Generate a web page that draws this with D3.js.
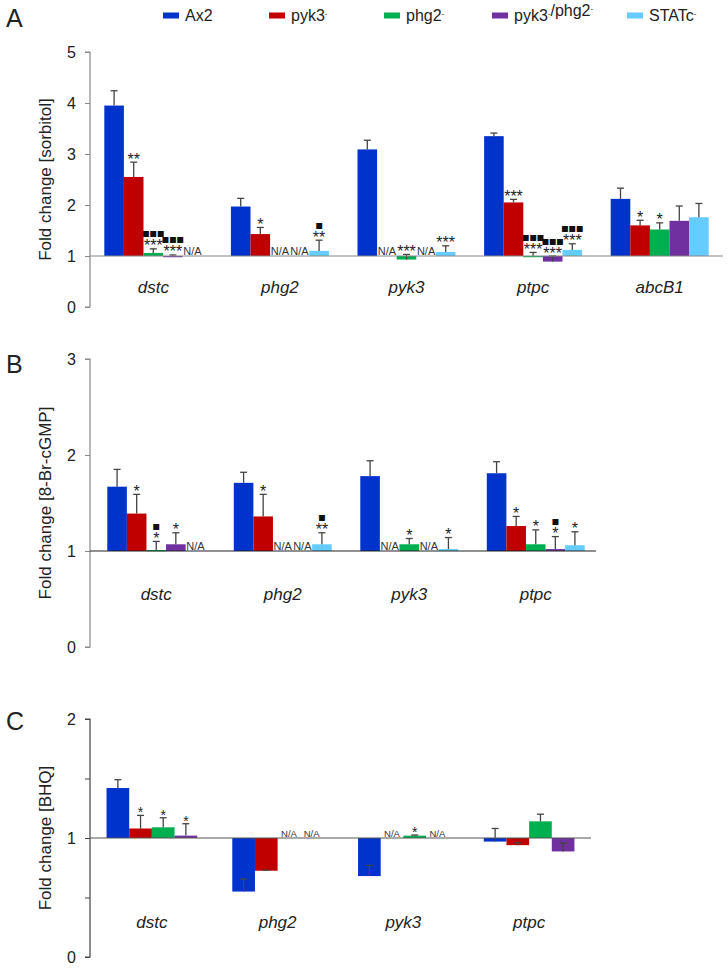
<!DOCTYPE html>
<html><head><meta charset="utf-8">
<script src="https://cdn.jsdelivr.net/npm/d3@7"></script>
<style>
html,body{margin:0;padding:0;background:#fff;}
svg{display:block;font-family:"Liberation Sans",Arial,sans-serif;}
</style></head>
<body>
<svg id="chart" width="728" height="969"></svg>
<script>
// ---------------- DATA ----------------
const strains = ["Ax2", "pyk3-", "phg2-", "pyk3-/phg2-", "STATc-"];
const genesA = ["dstc", "phg2", "pyk3", "ptpc", "abcB1"];
const genesBC = ["dstc", "phg2", "pyk3", "ptpc"];

// Panel A: Fold change [sorbitol]  (rows = strains, cols = genes; null = N/A)
const sorbitolValues = [
  [3.95, 1.97, 3.09, 3.35, 2.12],
  [2.55, 1.43, null, 2.05, 1.60],
  [1.06, null, 0.93, 1.00, 1.52],
  [0.99, null, null, 0.89, 1.69],
  [null, 1.10, 1.08, 1.12, 1.76]
];
const sorbitolErrors = [
  [0.29, 0.16, 0.18, 0.06, 0.21],
  [0.29, 0.13, null, 0.06, 0.10],
  [0.08, null, 0.10, 0.07, 0.13],
  [0.03, null, null, 0.11, 0.29],
  [null, 0.21, 0.12, 0.12, 0.27]
];
const sorbitolStars = [
  ["", "", "", "", ""],
  ["**", "*", "", "***", "*"],
  ["***", "", "***", "***", "*"],
  ["***", "", "", "***", ""],
  ["", "**", "***", "***", ""]
];
const sorbitolSquares = [
  ["", "", "", "", ""],
  ["", "", "", "", ""],
  ["■■■", "", "", "■■■", ""],
  ["■■■", "", "", "■■■", ""],
  ["", "■", "", "■■■", ""]
];

// Panel B: Fold change [8-Br-cGMP]
const cgmpValues = [
  [1.67, 1.71, 1.78, 1.81],
  [1.39, 1.36, null, 1.26],
  [1.01, null, 1.07, 1.07],
  [1.07, null, null, 1.02],
  [null, 1.07, 1.02, 1.06]
];
const cgmpErrors = [
  [0.18, 0.11, 0.16, 0.12],
  [0.20, 0.23, null, 0.10],
  [0.09, null, 0.06, 0.15],
  [0.12, null, null, 0.13],
  [null, 0.12, 0.12, 0.14]
];
const cgmpStars = [
  ["", "", "", ""],
  ["*", "*", "", "*"],
  ["*", "", "*", "*"],
  ["*", "", "", "*"],
  ["", "**", "*", "*"]
];
const cgmpSquares = [
  ["", "", "", ""],
  ["", "", "", ""],
  ["■", "", "", ""],
  ["", "", "", "■"],
  ["", "■", "", ""]
];

// Panel C: Fold change [BHQ]  (STATc- not measured)
const bhqValues = [
  [1.42, 0.55, 0.68, 0.97],
  [1.08, 0.725, null, 0.94],
  [1.09, null, 1.02, 1.14],
  [1.02, null, null, 0.887]
];
const bhqErrors = [
  [0.07, 0.105, 0.09, 0.11],
  [0.11, 0.005, null, 0.02],
  [0.08, null, 0.005, 0.06],
  [0.10, null, null, 0.07]
];
const bhqStars = [
  ["", "", "", ""],
  ["*", "", "", ""],
  ["*", "", "*", ""],
  ["*", "", "", ""]
];
const bhqSquares = [
  ["", "", "", ""],
  ["", "", "", ""],
  ["", "", "", ""],
  ["", "", "", ""]
];

const ticksA = [0, 1, 2, 3, 4, 5];
const ticksB = [0, 1, 2, 3];
const ticksC = [0, 0.5, 1, 1.5, 2];
const tickLabelsC = ["0", "", "1", "", "2"];

// ---------------- STYLE / LAYOUT ----------------
const colors = ["#0033cc", "#c00000", "#00b050", "#7030a0", "#66ccff"];
const FONT = '"Liberation Sans",Arial,sans-serif';
const svg = d3.select("#chart");

function superLabel(sel, label, size, supSize) {
  const parts = label.split(/(-)/).filter(s => s.length);
  parts.forEach(p => {
    if (p === "-") {
      sel.append("tspan").attr("font-size", supSize).attr("dy", -5).text("-");
      sel.append("tspan").attr("font-size", size).attr("dy", 5).text("");
    } else {
      sel.append("tspan").attr("font-size", size).text(p);
    }
  });
}

// Legend
const legendX = [163, 269, 384, 492, 627];
strains.forEach((s, i) => {
  const g = svg.append("g").attr("transform", `translate(${legendX[i]},0)`);
  g.append("rect").attr("x", 0).attr("y", 12.5).attr("width", 16).attr("height", 6).attr("fill", colors[i]);
  const t = g.append("text").attr("x", 22).attr("y", 21).attr("fill", "#222").attr("font-size", 16);
  superLabel(t, s, 16, 8);
});

function panel(cfg) {
  const g = svg.append("g");
  const y = d3.scaleLinear().domain(cfg.yDomain).range(cfg.yRange);
  const x0 = d3.scaleBand().domain(cfg.genes).range(cfg.xRange)
    .paddingInner(cfg.padIn).paddingOuter(cfg.padIn / 2);
  const nS = cfg.values.length;
  const x1 = d3.scaleBand().domain(d3.range(nS)).range([0, x0.bandwidth()]).padding(0);

  // panel letter
  svg.append("text").attr("x", 6).attr("y", cfg.letterY).attr("font-size", 25)
    .attr("fill", "#222").text(cfg.letter);

  // y axis
  const axis = d3.axisLeft(y).tickValues(cfg.ticks).tickSize(5).tickPadding(9)
    .tickFormat((d, i) => cfg.tickLabels ? cfg.tickLabels[i] : d3.format("d")(d));
  const ax = g.append("g").attr("transform", `translate(${cfg.axisX},0)`).call(axis);
  ax.select(".domain").attr("stroke", cfg.axisColor).attr("stroke-width", 1.2)
    .attr("d", `M-5,${y(cfg.yDomain[1])}H0V${y(cfg.yDomain[0])}H-5`);
  ax.selectAll(".tick line").attr("stroke", cfg.axisColor);
  ax.selectAll(".tick text").attr("font-size", 16).attr("fill", "#222").attr("font-family", FONT);

  // y title
  const yc = (cfg.yRange[0] + cfg.yRange[1]) / 2;
  g.append("text").attr("transform", `translate(51,${yc}) rotate(-90)`)
    .attr("text-anchor", "middle").attr("font-size", 17).attr("fill", "#222").text(cfg.title);

  // bars
  cfg.values.forEach((row, si) => {
    row.forEach((v, gi) => {
      const bx = x0(cfg.genes[gi]) + x1(si);
      const bw = x1.bandwidth();
      const cx = bx + bw / 2;
      if (v === null) {
        if (cfg.naShow) {
          g.append("text").attr("x", cx).attr("y", y(1) - 1.5).attr("text-anchor", "middle")
            .attr("font-size", cfg.naSize).attr("fill", "#333").text("N/A");
        }
        return;
      }
      const y1 = y(1), yv = y(v);
      g.append("rect").attr("x", bx).attr("width", bw)
        .attr("y", Math.min(y1, yv)).attr("height", Math.max(Math.abs(y1 - yv), 1.2))
        .attr("fill", colors[si]);
      const e = cfg.errors[si][gi];
      const yTop = y(v + e);
      g.append("line").attr("x1", cx).attr("x2", cx).attr("y1", yv).attr("y2", yTop)
        .attr("stroke", "#444").attr("stroke-width", 1.3);
      g.append("line").attr("x1", cx - 3.5).attr("x2", cx + 3.5).attr("y1", yTop).attr("y2", yTop)
        .attr("stroke", "#444").attr("stroke-width", 1.3);
      const capY = Math.min(yTop, yv, y1);
      const st = cfg.stars[si][gi];
      if (st) {
        g.append("text").attr("x", cx).attr("y", capY + cfg.starOff).attr("text-anchor", "middle")
          .attr("font-size", cfg.starSize).attr("fill", "#222").text(st);
      }
      const sq = cfg.squares[si][gi];
      if (sq) {
        g.append("text").attr("x", cx).attr("y", capY - 12.5).attr("text-anchor", "middle")
          .attr("font-family", '"DejaVu Sans",sans-serif')
          .attr("font-size", 7.8).attr("fill", "#111").text(sq);
      }
    });
  });

  // baseline at 1
  g.append("line").attr("x1", cfg.axisX).attr("x2", cfg.baseEnd)
    .attr("y1", y(1)).attr("y2", y(1)).attr("stroke", cfg.baseColor).attr("stroke-width", 1.2);

  // category labels
  cfg.genes.forEach(gn => {
    g.append("text").attr("x", x0(gn) + x0.bandwidth() / 2).attr("y", cfg.catY)
      .attr("text-anchor", "middle").attr("font-size", 17).attr("font-style", "italic")
      .attr("fill", "#222").text(gn);
  });
}

panel({
  letter: "A", letterY: 27, genes: genesA, values: sorbitolValues, errors: sorbitolErrors,
  stars: sorbitolStars, squares: sorbitolSquares, yDomain: [0, 5], yRange: [307, 52],
  xRange: [90, 723], padIn: 0.226, axisX: 90, baseEnd: 723, ticks: ticksA,
  title: "Fold change [sorbitol]", catY: 293, axisColor: "#888", baseColor: "#888",
  naShow: true, naSize: 11, starSize: 16, starOff: 2.5
});
panel({
  letter: "B", letterY: 373, genes: genesBC, values: cgmpValues, errors: cgmpErrors,
  stars: cgmpStars, squares: cgmpSquares, yDomain: [0, 3], yRange: [647, 359],
  xRange: [93, 599], padIn: 0.226, axisX: 90, baseEnd: 596, ticks: ticksB,
  title: "Fold change [8-Br-cGMP]", catY: 600, axisColor: "#888", baseColor: "#222",
  naShow: true, naSize: 11, starSize: 16, starOff: 2.5
});
panel({
  letter: "C", letterY: 730, genes: genesBC, values: bhqValues, errors: bhqErrors,
  stars: bhqStars, squares: bhqSquares, yDomain: [0, 2], yRange: [957, 719],
  xRange: [89, 592], padIn: 0.279, axisX: 90, baseEnd: 591, ticks: ticksC, tickLabels: tickLabelsC,
  title: "Fold change [BHQ]", catY: 928, axisColor: "#444", baseColor: "#555",
  naShow: true, naSize: 9.5, starSize: 14, starOff: 2
});
</script>
</body></html>
